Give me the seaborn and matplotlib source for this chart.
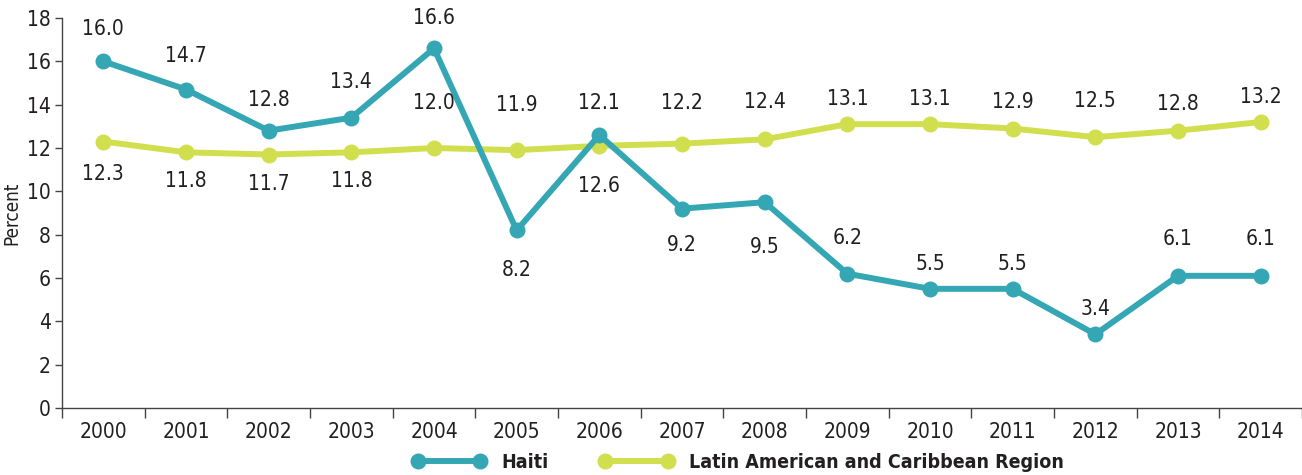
import matplotlib
matplotlib.use("Agg")
import matplotlib.pyplot as plt
import pandas as pd
import seaborn as sns
from matplotlib.ticker import MultipleLocator

years = list(range(2000, 2015))
haiti = [16.0, 14.7, 12.8, 13.4, 16.6, 8.2, 12.6, 9.2, 9.5, 6.2, 5.5, 5.5, 3.4, 6.1, 6.1]
lac = [12.3, 11.8, 11.7, 11.8, 12.0, 11.9, 12.1, 12.2, 12.4, 13.1, 13.1, 12.9, 12.5, 12.8, 13.2]
series_names = ["Haiti", "Latin American and Caribbean Region"]

# label offsets in pixels (positive = above the point)
haiti_off = [32, 34, 31, 36, 30, -40, -51, -36, -45, 36, 25, 25, 25, 37, 37]
lac_off = [-33, -29, -29, -29, 45, 45, 43, 41, 37, 25, 25, 27, 36, 27, 25]

TEAL = "#35a7b4"
LIME = "#d1df4f"
TXT = "#231f20"

sns.set_theme(style="ticks")
plt.rcParams["font.family"] = ["DejaVu Sans"]
plt.rcParams["font.stretch"] = "condensed"

df = pd.DataFrame({
    "year": years * 2,
    "value": haiti + lac,
    "series": [series_names[0]] * len(years) + [series_names[1]] * len(years),
})

fig = plt.figure(figsize=(13.02, 4.75), dpi=100)
ax = fig.add_axes([62 / 1302, 67 / 475, 1 - 62 / 1302, 390 / 475])

# draw LAC first so Haiti sits on top
for name, col, z in [(series_names[1], LIME, 2), (series_names[0], TEAL, 3)]:
    sub = df[df["series"] == name]
    sns.lineplot(data=sub, x="year", y="value", color=col, lw=4.3, marker="o",
                 markersize=11.5, markeredgewidth=0, ax=ax, zorder=z, legend=False)

for vals, offs in [(haiti, haiti_off), (lac, lac_off)]:
    for yr, v, o in zip(years, vals, offs):
        ax.annotate(f"{v:.1f}", (yr, v), xytext=(0, o), textcoords="offset pixels",
                    ha="center", va="center", fontsize=15, color=TXT)

ax.set_xlim(years[0] - 0.5, years[-1] + 0.5)
ax.set_ylim(0, 18)
ax.yaxis.set_major_locator(MultipleLocator(2))
ax.set_xticks(years)
ax.set_xticks([y - 0.5 for y in years] + [years[-1] + 0.5], minor=True)
ax.tick_params(axis="x", which="major", length=0, pad=10, labelsize=15, colors=TXT)
ax.tick_params(axis="x", which="minor", length=7, width=1, color="#444444")
ax.tick_params(axis="y", length=5, width=1, pad=3, labelsize=15, colors=TXT, color="#444444")
ax.set_xlabel("")
ax.set_ylabel("Percent", fontsize=13.5, color=TXT, labelpad=4)
sns.despine(ax=ax)
for s in ["left", "bottom"]:
    ax.spines[s].set_color("#444444")
    ax.spines[s].set_linewidth(1)

handles = [plt.Line2D([], [], color=c, lw=4.3, marker="o", markersize=11.5, markeredgewidth=0)
           for c in [TEAL, LIME]]
leg = fig.legend(handles, series_names, loc="center", bbox_to_anchor=(738 / 1302, 13 / 475),
                 ncol=2, frameon=False, numpoints=2, handlelength=3.8, columnspacing=2.6,
                 handletextpad=0.8, prop={"size": 14, "weight": "bold", "stretch": "condensed"})
for t in leg.get_texts():
    t.set_color(TXT)

fig.savefig("out.png", dpi=100)
